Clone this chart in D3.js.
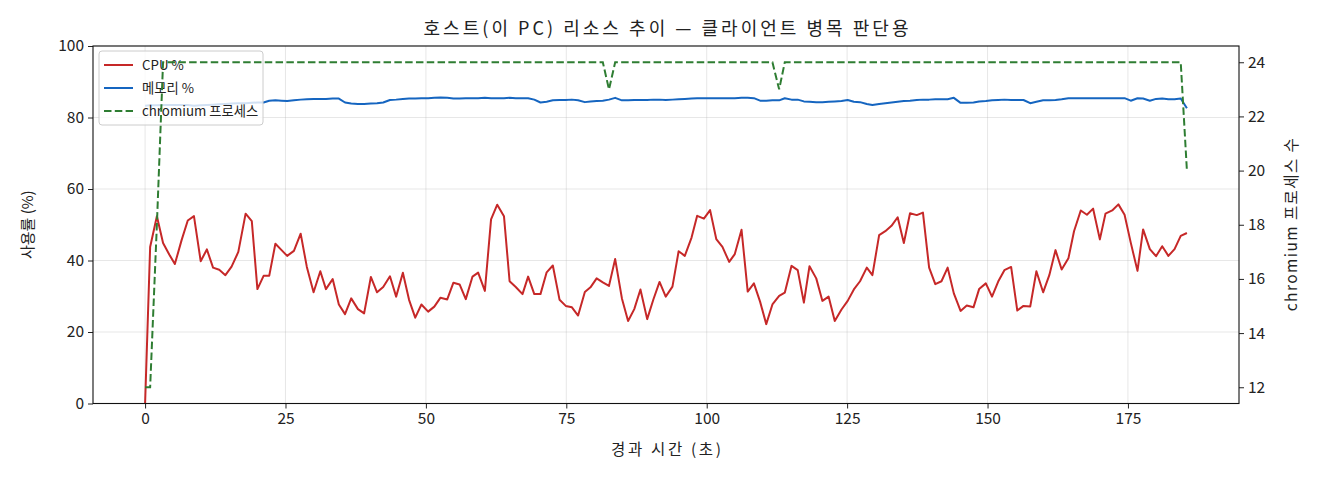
<!DOCTYPE html>
<html>
<head>
<meta charset="utf-8">
<script src="https://cdn.jsdelivr.net/npm/d3@7"></script>
<style>
  body { margin: 0; background: #fff; }
  text { font-family: "Noto Sans CJK KR", "Noto Sans", sans-serif; fill: #222; }
</style>
</head>
<body>
<svg id="chart" width="1320" height="480"></svg>
<script>
// elapsed seconds of each sample
const elapsed = [
  0, 0.9, 2.1, 3.2, 4.3, 5.3, 6.5, 7.6, 8.7, 9.9,
  11.0, 12.1, 13.2, 14.3, 15.4, 16.6, 17.9, 19.0, 20.0, 21.1,
  22.1, 23.2, 24.3, 25.3, 26.5, 27.7, 28.8, 30.0, 31.2, 32.2,
  33.4, 34.5, 35.6, 36.7, 37.9, 39.0, 40.2, 41.3, 42.4, 43.6,
  44.7, 45.9, 47.0, 48.1, 49.2, 50.4, 51.5, 52.6, 53.8, 54.9,
  56.0, 57.1, 58.3, 59.3, 60.5, 61.6, 62.7, 63.9, 64.9, 66.0,
  67.2, 68.2, 69.3, 70.4, 71.5, 72.6, 73.8, 74.9, 76.0, 77.1,
  78.3, 79.3, 80.4, 81.5, 82.6, 83.7, 84.9, 86.0, 87.1, 88.2,
  89.4, 90.5, 91.6, 92.7, 93.9, 95.0, 96.1, 97.3, 98.3, 99.5,
  100.6, 101.7, 102.8, 104.0, 105.0, 106.2, 107.3, 108.4, 109.5, 110.6,
  111.7, 112.9, 113.9, 115.1, 116.2, 117.3, 118.3, 119.5, 120.6, 121.7,
  122.8, 124.0, 125.1, 126.2, 127.3, 128.5, 129.5, 130.7, 131.8, 132.9,
  134.0, 135.1, 136.2, 137.4, 138.5, 139.6, 140.7, 141.8, 142.9, 144.0,
  145.2, 146.3, 147.5, 148.5, 149.7, 150.8, 151.9, 153.0, 154.2, 155.3,
  156.4, 157.6, 158.7, 159.9, 161.0, 162.1, 163.2, 164.4, 165.4, 166.6,
  167.7, 168.8, 170.0, 171.0, 172.2, 173.3, 174.4, 175.5, 176.7, 177.7,
  178.9, 180.0, 181.1, 182.2, 183.3, 184.4, 185.5
];

const cpuPct = [
  0, 43.8, 52.4, 44.9, 41.7, 39.0, 45.7, 51.2, 52.4, 39.8,
  43.1, 38.0, 37.4, 35.9, 38.3, 42.4, 53.1, 51.0, 32.0, 35.7,
  35.7, 44.7, 42.9, 41.3, 42.7, 47.5, 38.2, 31.1, 37.0, 32.0,
  34.8, 27.7, 25.0, 29.4, 26.4, 25.2, 35.4, 31.1, 32.6, 35.6,
  29.9, 36.6, 29.0, 24.0, 27.7, 25.7, 27.1, 29.6, 29.1, 33.8,
  33.3, 29.2, 35.5, 36.6, 31.5, 51.5, 55.6, 52.4, 34.2, 32.6,
  30.6, 35.5, 30.6, 30.6, 36.7, 38.6, 29.0, 27.3, 26.9, 24.6,
  31.2, 32.5, 35.0, 33.9, 32.9, 40.4, 29.4, 23.1, 26.4, 31.9,
  23.6, 29.1, 34.0, 29.9, 32.7, 42.6, 41.3, 46.4, 52.5, 51.7,
  54.1, 46.0, 43.8, 39.6, 41.8, 48.6, 31.3, 33.6, 28.5, 22.2,
  27.7, 30.1, 31.0, 38.5, 37.3, 28.2, 38.4, 35.0, 28.7, 29.9,
  23.1, 26.3, 28.7, 31.9, 34.2, 38.0, 35.9, 47.1, 48.2, 49.7,
  52.1, 44.9, 53.2, 52.7, 53.4, 38.0, 33.4, 34.2, 38.0, 30.8,
  25.9, 27.4, 26.9, 32.0, 33.6, 29.9, 34.1, 37.3, 38.2, 26.0,
  27.3, 27.1, 37.0, 31.1, 35.9, 42.9, 37.5, 40.6, 48.2, 54.0,
  52.8, 54.5, 45.9, 53.1, 54.0, 55.7, 52.8, 45.0, 37.1, 48.7,
  43.2, 41.2, 44.0, 41.3, 43.2, 46.9, 47.7
];

const memPct = [
  83.3, 83.4, 83.4, 83.5, 83.5, 83.5, 83.5, 83.5, 83.3, 83.4,
  83.5, 83.6, 83.7, 83.8, 83.9, 84.0, 84.0, 84.1, 84.2, 84.2,
  84.7, 84.8, 84.7, 84.6, 84.8, 85.0, 85.1, 85.2, 85.2, 85.2,
  85.3, 85.3, 84.2, 83.9, 83.8, 83.8, 83.9, 84.0, 84.2, 84.9,
  85.0, 85.2, 85.3, 85.3, 85.4, 85.4, 85.5, 85.6, 85.5, 85.3,
  85.3, 85.4, 85.4, 85.4, 85.5, 85.4, 85.4, 85.4, 85.5, 85.4,
  85.4, 85.4, 85.0, 84.2, 84.4, 84.8, 84.9, 84.9, 85.0, 84.8,
  84.3, 84.5, 84.6, 84.7, 85.0, 85.5, 84.8, 84.8, 84.9, 84.9,
  84.9, 85.0, 85.0, 84.9, 85.0, 85.1, 85.2, 85.3, 85.4, 85.4,
  85.4, 85.4, 85.4, 85.4, 85.4, 85.5, 85.5, 85.4, 84.7, 84.7,
  84.8, 84.8, 85.4, 85.0, 85.0, 84.5, 84.4, 84.3, 84.3, 84.4,
  84.5, 84.6, 84.9, 84.4, 84.3, 83.8, 83.5, 83.8, 84.0, 84.2,
  84.4, 84.6, 84.7, 84.9, 85.0, 85.0, 85.1, 85.1, 85.1, 85.5,
  84.1, 84.1, 84.2, 84.5, 84.6, 84.8, 84.9, 85.0, 84.9, 84.9,
  84.9, 84.0, 84.4, 84.8, 84.8, 84.9, 85.1, 85.4, 85.4, 85.4,
  85.4, 85.4, 85.4, 85.4, 85.4, 85.4, 85.4, 84.7, 85.4, 85.3,
  84.7, 85.2, 85.3, 85.1, 85.1, 85.3, 82.6
];

const chromiumProcs = [
  12, 12, 18, 24, 24, 24, 24, 24, 24, 24,
  24, 24, 24, 24, 24, 24, 24, 24, 24, 24,
  24, 24, 24, 24, 24, 24, 24, 24, 24, 24,
  24, 24, 24, 24, 24, 24, 24, 24, 24, 24,
  24, 24, 24, 24, 24, 24, 24, 24, 24, 24,
  24, 24, 24, 24, 24, 24, 24, 24, 24, 24,
  24, 24, 24, 24, 24, 24, 24, 24, 24, 24,
  24, 24, 24, 24, 23, 24, 24, 24, 24, 24,
  24, 24, 24, 24, 24, 24, 24, 24, 24, 24,
  24, 24, 24, 24, 24, 24, 24, 24, 24, 24,
  24, 23, 24, 24, 24, 24, 24, 24, 24, 24,
  24, 24, 24, 24, 24, 24, 24, 24, 24, 24,
  24, 24, 24, 24, 24, 24, 24, 24, 24, 24,
  24, 24, 24, 24, 24, 24, 24, 24, 24, 24,
  24, 24, 24, 24, 24, 24, 24, 24, 24, 24,
  24, 24, 24, 24, 24, 24, 24, 24, 24, 24,
  24, 24, 24, 24, 24, 24, 20
];

const xTicks = [0, 25, 50, 75, 100, 125, 150, 175];
const yLeftTicks = [0, 20, 40, 60, 80, 100];
const yRightTicks = [12, 14, 16, 18, 20, 22, 24];
const seriesNames = ["CPU %", "메모리 %", "chromium 프로세스"];

const width = 1320;
const height = 480;
const margin = { top: 46, right: 81, bottom: 76.5, left: 93 };
const colors = { cpu: "#c62828", mem: "#1565c0", proc: "#2e7d32" };

const svg = d3.select("#chart");

// matplotlib-style 5% padding on x and on the process-count axis
const xPad = (d3.max(elapsed) - d3.min(elapsed)) * 0.05;
const x = d3.scaleLinear()
  .domain([d3.min(elapsed) - xPad, d3.max(elapsed) + xPad])
  .range([margin.left, width - margin.right]);

const yLeft = d3.scaleLinear()
  .domain([0, 100])
  .range([height - margin.bottom, margin.top]);

const pExt = d3.extent(chromiumProcs);
const pPad = (pExt[1] - pExt[0]) * 0.05;
const yRight = d3.scaleLinear()
  .domain([pExt[0] - pPad, pExt[1] + pPad])
  .range([height - margin.bottom, margin.top]);

const plotW = width - margin.left - margin.right;
const plotH = height - margin.top - margin.bottom;

// grid
svg.append("g")
  .selectAll("line")
  .data(xTicks)
  .join("line")
  .attr("x1", (d) => x(d)).attr("x2", (d) => x(d))
  .attr("y1", margin.top).attr("y2", height - margin.bottom)
  .attr("stroke", "#b0b0b0").attr("stroke-opacity", 0.3).attr("stroke-width", 1);

svg.append("g")
  .selectAll("line")
  .data(yLeftTicks)
  .join("line")
  .attr("x1", margin.left).attr("x2", width - margin.right)
  .attr("y1", (d) => yLeft(d)).attr("y2", (d) => yLeft(d))
  .attr("stroke", "#b0b0b0").attr("stroke-opacity", 0.3).attr("stroke-width", 1);

svg.append("defs").append("clipPath").attr("id", "plot-clip")
  .append("rect")
  .attr("x", margin.left).attr("y", margin.top)
  .attr("width", plotW).attr("height", plotH);

const idx = d3.range(elapsed.length);

const cpuLine = d3.line().x((i) => x(elapsed[i])).y((i) => yLeft(cpuPct[i]));
const memLine = d3.line().x((i) => x(elapsed[i])).y((i) => yLeft(memPct[i]));
const procLine = d3.line().x((i) => x(elapsed[i])).y((i) => yRight(chromiumProcs[i]));

const plot = svg.append("g").attr("clip-path", "url(#plot-clip)");

plot.append("path")
  .datum(idx)
  .attr("d", cpuLine)
  .attr("fill", "none")
  .attr("stroke", colors.cpu)
  .attr("stroke-width", 2)
  .attr("stroke-linejoin", "round");

plot.append("path")
  .datum(idx)
  .attr("d", memLine)
  .attr("fill", "none")
  .attr("stroke", colors.mem)
  .attr("stroke-width", 2)
  .attr("stroke-linejoin", "round");

// legend (sits under the twin-axis line, like matplotlib)
const legend = svg.append("g").attr("transform", "translate(99,51)");
legend.append("rect")
  .attr("width", 164).attr("height", 74)
  .attr("rx", 3)
  .attr("fill", "#fff").attr("fill-opacity", 0.8)
  .attr("stroke", "#cccccc").attr("stroke-width", 1);

const legendColors = [colors.cpu, colors.mem, colors.proc];
seriesNames.forEach((name, i) => {
  const ly = 14 + i * 23;
  legend.append("line")
    .attr("x1", 5).attr("x2", 34)
    .attr("y1", ly).attr("y2", ly)
    .attr("stroke", legendColors[i])
    .attr("stroke-width", 2)
    .attr("stroke-dasharray", i === 2 ? "7.5,3.3" : null);
  legend.append("text")
    .attr("x", 43).attr("y", ly + 4.5)
    .attr("font-size", 13.3)
    .text(name);
});

const plot2 = svg.append("g").attr("clip-path", "url(#plot-clip)");
plot2.append("path")
  .datum(idx)
  .attr("d", procLine)
  .attr("fill", "none")
  .attr("stroke", colors.proc)
  .attr("stroke-width", 2)
  .attr("stroke-dasharray", "7.5,3.3");

// axes
const xAxis = svg.append("g")
  .attr("transform", `translate(0,${height - margin.bottom})`)
  .call(d3.axisBottom(x).tickValues(xTicks).tickSize(5).tickPadding(4));

const yAxisL = svg.append("g")
  .attr("transform", `translate(${margin.left},0)`)
  .call(d3.axisLeft(yLeft).tickValues(yLeftTicks).tickSize(5).tickPadding(4));

const yAxisR = svg.append("g")
  .attr("transform", `translate(${width - margin.right},0)`)
  .call(d3.axisRight(yRight).tickValues(yRightTicks).tickSize(5).tickPadding(4));

[xAxis, yAxisL, yAxisR].forEach((g) => {
  g.select(".domain").remove();
  g.selectAll(".tick line").attr("stroke", "#222").attr("stroke-width", 1);
  g.selectAll(".tick text")
    .attr("font-size", 15.5)
    .attr("font-family", "\"Noto Sans CJK KR\", \"Noto Sans\", sans-serif")
    .attr("fill", "#222");
});

// frame
svg.append("rect")
  .attr("x", margin.left).attr("y", margin.top)
  .attr("width", plotW).attr("height", plotH)
  .attr("fill", "none").attr("stroke", "#111").attr("stroke-width", 1.1);

// labels
svg.append("text")
  .attr("x", margin.left + plotW / 2).attr("y", 35)
  .attr("text-anchor", "middle")
  .attr("font-size", 18)
  .attr("textLength", 485)
  .attr("lengthAdjust", "spacing")
  .text("호스트(이 PC) 리소스 추이 — 클라이언트 병목 판단용");

svg.append("text")
  .attr("x", margin.left + plotW / 2).attr("y", 455)
  .attr("text-anchor", "middle")
  .attr("font-size", 15.5)
  .attr("textLength", 110)
  .attr("lengthAdjust", "spacing")
  .text("경과 시간 (초)");

svg.append("text")
  .attr("transform", `translate(33,${margin.top + plotH / 2}) rotate(-90)`)
  .attr("text-anchor", "middle")
  .attr("font-size", 15)
  .text("사용률 (%)");

svg.append("text")
  .attr("transform", `translate(1297,${margin.top + plotH / 2}) rotate(-90)`)
  .attr("text-anchor", "middle")
  .attr("font-size", 15.5)
  .attr("textLength", 173)
  .attr("lengthAdjust", "spacing")
  .text("chromium 프로세스 수");
</script>
</body>
</html>
